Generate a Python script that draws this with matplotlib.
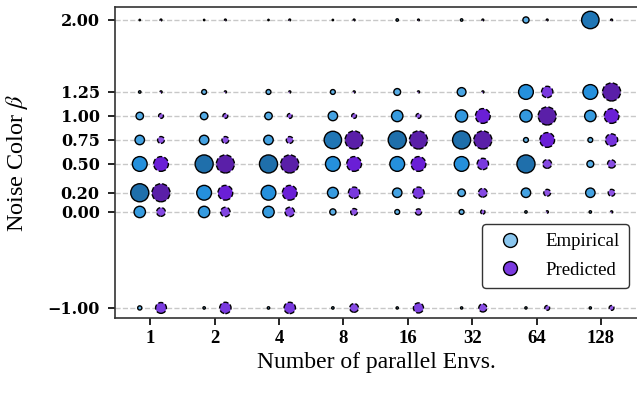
import numpy as np
import matplotlib
matplotlib.use("Agg")
import matplotlib.pyplot as plt
from matplotlib.colors import LinearSegmentedColormap
from matplotlib.lines import Line2D

plt.rcParams['mathtext.fontset'] = 'stix'
plt.rcParams['font.family'] = 'serif'
plt.rcParams['font.serif'] = ['Liberation Serif', 'DejaVu Serif']

# data
n_envs = ['1', '2', '4', '8', '16', '32', '64', '128']
betas = [2.0, 1.25, 1.0, 0.75, 0.5, 0.2, 0.0, -1.0]
beta_labels = ['2.00', '1.25', '1.00', '0.75', '0.50', '0.20', '0.00', '\u22121.00']

# fraction of runs per noise color (rows follow betas), one list per env count
empirical = {
    '1':   [0.0, 0.005, 0.07, 0.113, 0.28, 0.42, 0.165, 0.02],
    '2':   [0.0, 0.028, 0.07, 0.113, 0.42, 0.28, 0.165, 0.005],
    '4':   [0.0, 0.028, 0.07, 0.113, 0.42, 0.28, 0.165, 0.005],
    '8':   [0.0, 0.028, 0.113, 0.39, 0.28, 0.15, 0.047, 0.005],
    '16':  [0.005, 0.058, 0.165, 0.42, 0.28, 0.113, 0.028, 0.004],
    '32':  [0.005, 0.097, 0.19, 0.42, 0.28, 0.07, 0.028, 0.004],
    '64':  [0.047, 0.28, 0.19, 0.028, 0.42, 0.113, 0.005, 0.004],
    '128': [0.39, 0.28, 0.165, 0.028, 0.058, 0.113, 0.005, 0.004],
}
predicted = {
    '1':   [0.002, 0.004, 0.028, 0.058, 0.28, 0.42, 0.097, 0.15],
    '2':   [0.002, 0.004, 0.028, 0.058, 0.42, 0.28, 0.113, 0.165],
    '4':   [0.002, 0.004, 0.028, 0.058, 0.42, 0.28, 0.113, 0.165],
    '8':   [0.002, 0.004, 0.028, 0.42, 0.28, 0.165, 0.058, 0.097],
    '16':  [0.002, 0.004, 0.028, 0.42, 0.28, 0.165, 0.047, 0.13],
    '32':  [0.002, 0.004, 0.28, 0.42, 0.165, 0.097, 0.021, 0.083],
    '64':  [0.002, 0.165, 0.42, 0.28, 0.097, 0.058, 0.005, 0.028],
    '128': [0.002, 0.42, 0.28, 0.19, 0.083, 0.058, 0.004, 0.028],
}

emp_cmap = LinearSegmentedColormap.from_list('emp', ['#6cb8ea', '#3a9de0', '#2590dc', '#1f6fab'])
pred_cmap = LinearSegmentedColormap.from_list('pred', ['#9a62e6', '#7c3ee0', '#6a1fd6', '#5a1fa8'])

fig = plt.figure(figsize=(6.37, 3.93), dpi=100)
ax = fig.add_axes([0.1805, 0.1908, 0.8195, 0.7913])

for yv in betas:
    ax.axhline(yv, color='#c8c8c8', ls='--', lw=1.0, zorder=0)

off = 0.165
for i, n in enumerate(n_envs):
    e = np.array(empirical[n])
    p = np.array(predicted[n])
    ax.scatter(np.full(len(betas), i - off), betas, s=1 + 400 * e,
               c=emp_cmap(np.clip(e / 0.42, 0, 1)), edgecolors='black',
               linewidths=1.0, zorder=3)
    ax.scatter(np.full(len(betas), i + off), betas, s=1 + 400 * p,
               c=pred_cmap(np.clip(p / 0.42, 0, 1)), edgecolors='black',
               linewidths=1.0, linestyles='--', zorder=3)

ax.set_xlim(-0.55, 7.56)
ax.set_ylim(-1.105, 2.135)
ax.set_xticks(range(len(n_envs)))
ax.set_xticklabels(n_envs, fontsize=13.5, fontweight='bold')
ax.set_yticks(betas)
ax.set_yticklabels(beta_labels, fontsize=11.5, fontweight='bold', family='DejaVu Serif')
ax.tick_params(direction='out', length=5, width=1.2, colors='black')
ax.tick_params(axis='y', pad=6)
ax.set_xlabel('Number of parallel Envs.', fontsize=17)
ax.set_ylabel(r'Noise Color $\beta$', fontsize=17.5)
ax.yaxis.set_label_coords(-0.163, 0.5)
ax.spines['right'].set_visible(False)
for side in ['left', 'top', 'bottom']:
    ax.spines[side].set_color('#333333')
    ax.spines[side].set_linewidth(1.2)

handles = [
    Line2D([], [], ls='none', marker='o', markersize=10, markerfacecolor='#8ac6ee',
           markeredgecolor='black', markeredgewidth=1.0, label='Empirical'),
    Line2D([], [], ls='none', marker='o', markersize=10, markerfacecolor='#7b3ae0',
           markeredgecolor='black', markeredgewidth=1.0, label='Predicted'),
]
leg = ax.legend(handles=handles, loc='lower right', bbox_to_anchor=(0.985, 0.096),
                borderaxespad=0, fontsize=13.5, frameon=True, fancybox=True,
                handletextpad=0.9, borderpad=0.5, labelspacing=0.6)
leg.get_frame().set_edgecolor('#333333')
leg.get_frame().set_linewidth(1.0)
leg.get_frame().set_alpha(1.0)

fig.savefig('out.png', dpi=100)
